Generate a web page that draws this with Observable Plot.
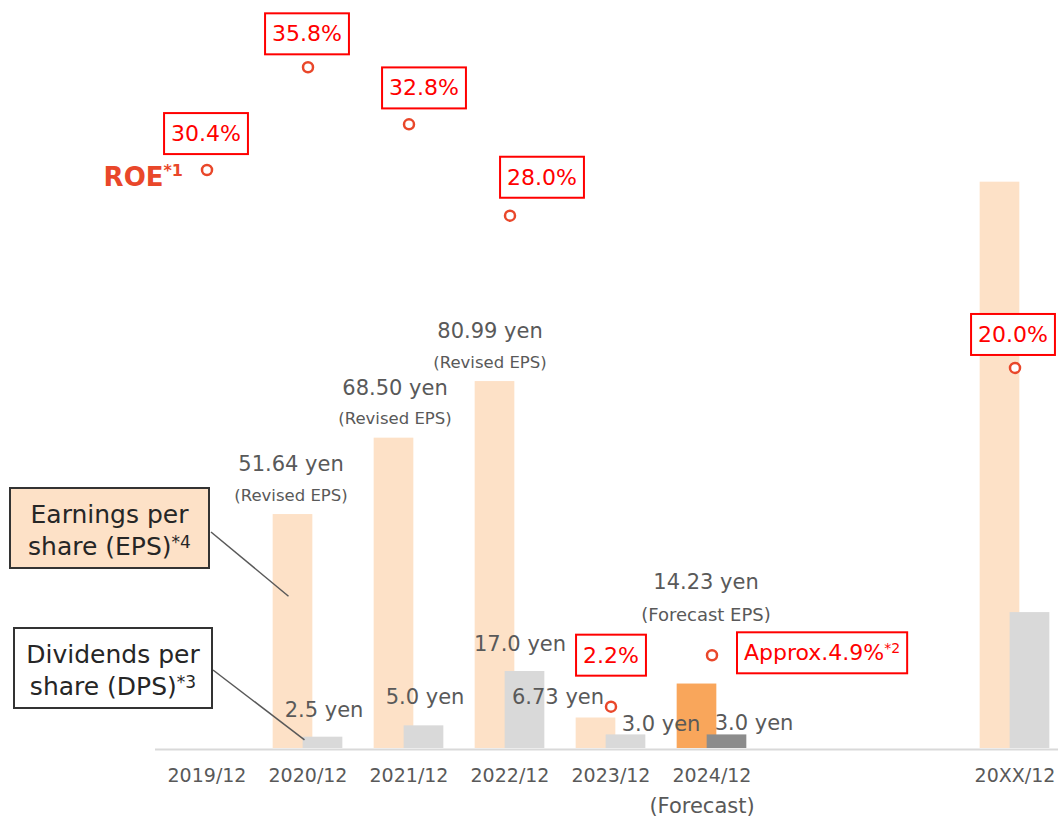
<!DOCTYPE html>
<html><head><meta charset="utf-8">
<script src="https://cdn.jsdelivr.net/npm/d3@7"></script>
<script src="https://cdn.jsdelivr.net/npm/@observablehq/plot@0.6"></script>
<style>
html,body{margin:0;padding:0;background:#fff;}
#chart{width:1058px;height:817px;overflow:hidden;}
</style></head><body><div id="chart"></div>
<script>
// ---------------- data ----------------
const periods = ["2019/12","2020/12","2021/12","2022/12","2023/12","2024/12","20XX/12"];
const gapSlots = ["gap-1","gap-2"];
const epsValues = [null, 51.64, 68.50, 80.99, 6.73, 14.23, 125];
const dpsValues = [null, 2.5, 5.0, 17.0, 3.0, 3.0, 30];
const roeValues = [30.4, 35.8, 32.8, 28.0, 2.2, 4.9, 20.0];
const epsLabels = ["", "51.64 yen", "68.50 yen", "80.99 yen", "6.73 yen", "14.23 yen", ""];
const epsNotes = ["", "(Revised EPS)", "(Revised EPS)", "(Revised EPS)", "", "(Forecast EPS)", ""];
const dpsLabels = ["", "2.5 yen", "5.0 yen", "17.0 yen", "3.0 yen", "3.0 yen", ""];
const roeLabels = ["30.4%","35.8%","32.8%","28.0%","2.2%","Approx.4.9%^*2","20.0%"];
const forecastPeriod = "2024/12";
const forecastNote = "(Forecast)";
const roeTitle = "ROE^*1";
const legendEPS = ["Earnings per", "share (EPS)^*4"];
const legendDPS = ["Dividends per", "share (DPS)^*3"];

// secondary axis: 1 % of ROE drawn as this many yen on the primary scale
const ROE_TO_YEN = 4.2;

const rows = periods.map((p, i) => ({
  period: p, eps: epsValues[i], dps: dpsValues[i], roe: roeValues[i],
  epsLabel: epsLabels[i], epsNote: epsNotes[i], dpsLabel: dpsLabels[i], roeLabel: roeLabels[i]
}));
const xDomain = [...periods.slice(0, 6), ...gapSlots, periods[6]];

// ---------------- styling / layout ----------------
const FONT = "DejaVu Sans";
const PEACH = "#FDE1C7", ORANGE = "#F9A65B", LGREY = "#D9D9D9", DGREY = "#8C8C8C";
const RED = "#FF0000", ROE_RED = "#E9472A", TXT = "#595959";

const epsShift = {"2020/12":[-17,-50,-19],"2021/12":[-14,-50,-19],"2022/12":[-20,-50,-19],
                  "2023/12":[-53,-21,0],"2024/12":[-6,-102,-69]};
const dpsShift = {"2020/12":[16,-27],"2021/12":[16,-29],"2022/12":[10,-27],"2023/12":[50,-11],"2024/12":[42,-12]};
const roeShift = {"2019/12":[-1,-36,"middle"],"2020/12":[-1,-33,"middle"],"2021/12":[15,-36,"middle"],
                  "2022/12":[32,-38,"middle"],"2023/12":[0,-51,"middle"],"2024/12":[32,-2,"start"],
                  "20XX/12":[-2,-33,"middle"]};

const marks = [];
const bw = (1066.5 - 154.5) / xDomain.length;
const epsInset = {insetLeft: bw/2 - 35, insetRight: bw/2 - 5};
const dpsInset = {insetLeft: bw/2 - 5, insetRight: bw/2 - 35};

marks.push(Plot.barY(rows.filter(d => d.eps != null && d.period !== forecastPeriod), {x: "period", y: "eps", fill: PEACH, ...epsInset}));
marks.push(Plot.barY(rows.filter(d => d.eps != null && d.period === forecastPeriod), {x: "period", y: "eps", fill: ORANGE, ...epsInset}));
marks.push(Plot.barY(rows.filter(d => d.dps != null && d.period !== forecastPeriod), {x: "period", y: "dps", fill: LGREY, ...dpsInset}));
marks.push(Plot.barY(rows.filter(d => d.dps != null && d.period === forecastPeriod), {x: "period", y: "dps", fill: DGREY, ...dpsInset}));
marks.push(Plot.ruleY([0], {stroke: LGREY, strokeWidth: 2, dy: 1}));

for (const r of rows) {
  const es = epsShift[r.period];
  if (es && r.epsLabel) {
    marks.push(Plot.text([r], {x: "period", y: "eps", text: "epsLabel", dx: es[0], dy: es[1], fontSize: 21, fontFamily: FONT, fill: TXT}));
    if (r.epsNote) marks.push(Plot.text([r], {x: "period", y: "eps", text: "epsNote", dx: es[0], dy: es[2], fontSize: r.period === forecastPeriod ? 18 : 16.5, fontFamily: FONT, fill: TXT}));
  }
  const ds = dpsShift[r.period];
  if (ds && r.dpsLabel) marks.push(Plot.text([r], {x: "period", y: "dps", text: "dpsLabel", dx: ds[0], dy: ds[1], fontSize: 21, fontFamily: FONT, fill: TXT}));
}

marks.push(Plot.dot(rows, {x: "period", y: d => d.roe * ROE_TO_YEN, r: 5, stroke: ROE_RED, strokeWidth: 2.5, fill: "white"}));

for (const r of rows) {
  const s = roeShift[r.period];
  marks.push(Plot.text([r], {x: "period", y: d => d.roe * ROE_TO_YEN, text: "roeLabel", dx: s[0], dy: s[1], textAnchor: s[2],
    fontSize: 22, fontFamily: FONT, fill: RED}));
}
marks.push(Plot.text([rows[0]], {x: "period", y: d => d.roe * ROE_TO_YEN, text: () => roeTitle, textAnchor: "end", dx: -24, dy: 8,
  fontSize: 26, fontWeight: "bold", fontFamily: FONT, fill: ROE_RED}));
marks.push(Plot.text([forecastPeriod], {x: d => d, y: () => 0, text: () => forecastNote, dx: -10, dy: 58, fontSize: 21, fontFamily: FONT, fill: TXT}));

const chart = Plot.plot({
  width: 1058, height: 817,
  marginTop: 0, marginBottom: 69, marginLeft: 155, marginRight: 0,
  style: {fontFamily: FONT, fontSize: "19px", color: TXT, background: "white", overflow: "hidden"},
  x: {domain: xDomain, range: [154.5, 1066.5], padding: 0, tickSize: 0, tickPadding: 20, label: null,
      tickFormat: d => gapSlots.includes(d) ? "" : d},
  y: {domain: [0, 165.1], axis: null},
  marks
});
document.getElementById("chart").appendChild(chart);

// ---------------- post-processing: superscripts, boxes, legend ----------------
const NS = "http://www.w3.org/2000/svg";
function applySup(el, size, dy) {
  const s = el.textContent, i = s.indexOf("^");
  if (i < 0) return;
  el.textContent = "";
  const a = document.createElementNS(NS, "tspan"); a.textContent = s.slice(0, i);
  const b = document.createElementNS(NS, "tspan"); b.textContent = s.slice(i + 1);
  b.setAttribute("font-size", size); b.setAttribute("dy", dy);
  el.append(a, b);
}
const svg = d3.select(chart);
const roeSet = new Set(roeLabels);
svg.selectAll("text").each(function() {
  const txt = this.textContent;
  if (txt === roeTitle) { applySup(this, 16, -10); return; }
  if (!roeSet.has(txt)) return;
  const b0 = this.getBBox();
  applySup(this, 14, -7);
  const b1 = this.getBBox();
  const rect = document.createElementNS(NS, "rect");
  const px = 7, py = 8;
  rect.setAttribute("x", b1.x - px); rect.setAttribute("y", b0.y - py);
  rect.setAttribute("width", b1.width + 2 * px); rect.setAttribute("height", b0.height + 2 * py);
  rect.setAttribute("fill", "white"); rect.setAttribute("stroke", RED); rect.setAttribute("stroke-width", 2);
  if (this.getAttribute("transform")) rect.setAttribute("transform", this.getAttribute("transform"));
  this.parentNode.insertBefore(rect, this);
});

const xs = chart.scale("x"), ys = chart.scale("y");
const center = p => xs.apply(p) + xs.bandwidth / 2;
const leg = svg.append("g").attr("font-family", FONT);
// leader lines
leg.append("line").attr("x1", 211).attr("y1", 532).attr("x2", center("2020/12") - 19).attr("y2", ys.apply(33.5))
  .attr("stroke", "#595959").attr("stroke-width", 1.5);
leg.append("line").attr("x1", 213).attr("y1", 670).attr("x2", center("2020/12") - 3).attr("y2", ys.apply(1.8))
  .attr("stroke", "#595959").attr("stroke-width", 1.5);
function legendBox(x, y, w, h, fill, lines) {
  leg.append("rect").attr("x", x).attr("y", y).attr("width", w).attr("height", h)
    .attr("fill", fill).attr("stroke", "#333").attr("stroke-width", 2);
  lines.forEach((t, i) => {
    const el = leg.append("text").attr("x", x + w / 2).attr("y", y + 26 + i * 32).attr("dy", "0.35em")
      .attr("text-anchor", "middle").attr("font-size", 25).attr("fill", "#262626").text(t).node();
    applySup(el, 17, -7);
  });
}
legendBox(10, 488, 199, 80, PEACH, legendEPS);
legendBox(14, 628, 198, 80, "white", legendDPS);
</script>
</body></html>
